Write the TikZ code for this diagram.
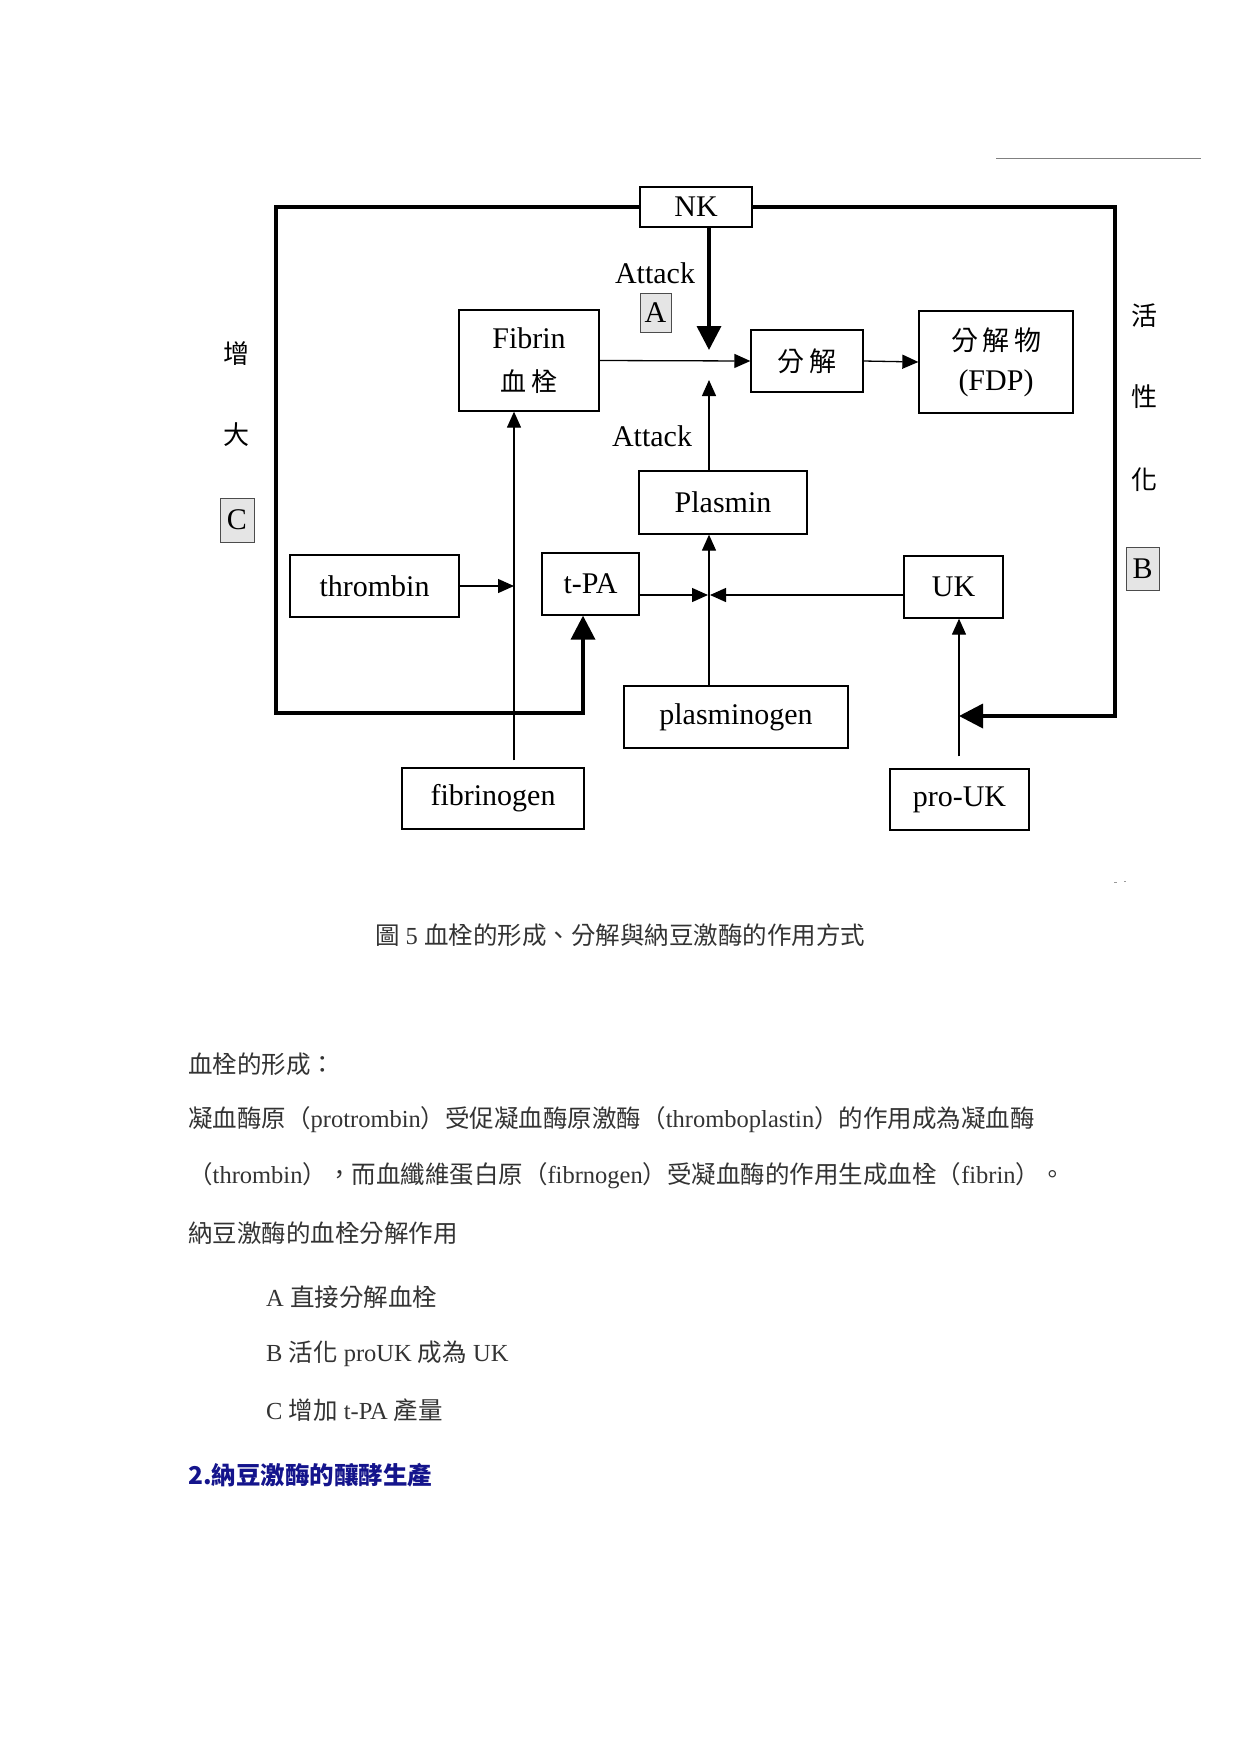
\documentclass[tikz,border=0pt]{standalone}
\usepackage{fontspec}
\setmainfont{Liberation Serif}
\newfontfamily\cjk{Noto Sans CJK TC}
\usetikzlibrary{arrows.meta}
\definecolor{navy}{RGB}{20,20,140}
\begin{document}
\begin{tikzpicture}[x=1pt,y=-1pt,
  box/.style={draw, line width=1.3pt, inner sep=0pt, align=center, font=\fontsize{30}{34}\selectfont},
  thinarr/.style={line width=1.3pt, -{Triangle[length=16pt,width=14pt]}},
  thickarr/.style={line width=3.6pt, line join=miter, -{Triangle[length=24pt,width=24pt]}},
  letterbox/.style={draw=black!70, line width=0.8pt, fill=black!10, inner sep=0pt, minimum width=33pt, minimum height=42pt, font=\fontsize{30}{34}\selectfont},
  side/.style={inner sep=0pt, font=\cjk\fontsize{26}{30}\selectfont},
  lbl/.style={inner sep=0pt, font=\fontsize{30}{34}\selectfont},
  body/.style={anchor=west, inner sep=0pt, text=black!80, font=\fontsize{24.5}{28}\selectfont},
]
\fill[white] (0,0) rectangle (1241,1754);
\useasboundingbox (0,0) rectangle (1241,1754);

% boxes
\node[box, minimum width=112pt, minimum height=40pt] (nk) at (696,207) {NK};
\node[box, minimum width=140pt, minimum height=101pt] (fib) at (529,360.5) {Fibrin\\[9pt]{\cjk\fontsize{26}{30}\selectfont 血\,栓}};
\node[box, minimum width=112pt, minimum height=62pt, font=\cjk\fontsize{27}{32}\selectfont] (dec) at (807,361) {分\,解};
\node[box, minimum width=154pt, minimum height=102pt] (fdp) at (996,362) {{\cjk\fontsize{27}{32}\selectfont 分\,解\,物}\\[6pt](FDP)};
\node[box, minimum width=168pt, minimum height=63pt] (pla) at (723,502.5) {Plasmin};
\node[box, minimum width=169pt, minimum height=62pt] (thr) at (374.5,586) {thrombin};
\node[box, minimum width=97pt, minimum height=62pt] (tpa) at (590.5,584) {t-PA};
\node[box, minimum width=99pt, minimum height=62pt] (uk) at (953.5,587) {UK};
\node[box, minimum width=224pt, minimum height=62pt] (plg) at (736,717) {plasminogen};
\node[box, minimum width=182pt, minimum height=61pt] (fbg) at (493,798.5) {fibrinogen};
\node[box, minimum width=139pt, minimum height=61pt] (puk) at (959.5,799.5) {pro-UK};

% labels
\node[lbl] (att1) at (655,273) {Attack};
\node[letterbox, minimum width=31pt, minimum height=39pt] (la) at (655.5,312.5) {A};
\node[lbl] (att2) at (652,436) {Attack};
\node[side] (z1) at (236,354) {增};
\node[side] (z2) at (236,435) {大};
\node[letterbox, minimum width=34pt, minimum height=44pt] (lc) at (237,520) {C};
\node[side] (h1) at (1144,316) {活};
\node[side] (h2) at (1144,397) {性};
\node[side] (h3) at (1144,480) {化};
\node[letterbox, minimum width=33pt, minimum height=43pt] (lb) at (1142.5,568.5) {B};

% coordinates
\coordinate (ctl) at (276,207);
\coordinate (cbl) at (276,713);
\coordinate (cbm) at (583,713);
\coordinate (ctr) at (1115,207);
\coordinate (cbr) at (1115,716);
\coordinate (jx) at (709,595);
\coordinate (natk) at (709,350);
\coordinate (patk) at (709,380);
\coordinate (vf) at (514,586);
\coordinate (pukj) at (959,716);

% frame
\draw[thickarr] (nk.west) -- (ctl) -- (cbl) -- (cbm) -- (cbm |- tpa.south);
\draw[thickarr] (nk.east) -- (ctr) -- (cbr) -- (pukj);

% arrows
\draw[thickarr] (nk.south -| natk) -- (natk);
\draw[thinarr] (pla.north -| patk) -- (patk);
\draw[thinarr] (fib.east) -- (dec.west);
\draw[thinarr] (dec.east) -- (fdp.west);
\draw[thinarr] (thr.east) -- (vf);
\draw[thinarr, shorten <=7pt] (fbg.north -| vf) -- (fib.south -| vf);
\draw[thinarr] (tpa.east |- jx) -- ([xshift=-1pt]jx);
\draw[thinarr] (uk.west |- jx) -- ([xshift=1pt]jx);
\draw[thinarr] (plg.north -| jx) -- (pla.south -| jx);
\draw[thinarr, shorten <=12pt] (puk.north -| pukj) -- (uk.south -| pukj);

% rule and marks
\draw[black!50, line width=0.8pt] (996,158) -- (1201,158);
\draw[black!40, line width=0.6pt] (1114,882) -- (1117,882) (1124,881) -- (1126,881);

% caption and text
\node[inner sep=0pt, text=black!80, font=\fontsize{24.5}{28}\selectfont] (cap) at (620,935) {{\cjk 圖} 5 {\cjk 血栓的形成、分解與納豆激酶的作用方式}};
\node[body] (t1) at (188,1064) {{\cjk 血栓的形成：}};
\node[body] (t2) at (188,1120) {{\cjk 凝血酶原（}protrombin{\cjk ）受促凝血酶原激酶（}thromboplastin{\cjk ）的作用成為凝血酶}};
\node[body] (t3) at (188,1176) {{\cjk （}thrombin{\cjk ），而血纖維蛋白原（}fibrnogen{\cjk ）受凝血酶的作用生成血栓（}fibrin{\cjk ）。}};
\node[body] (t4) at (188,1233) {{\cjk 納豆激酶的血栓分解作用}};
\node[body] (la1) at (266,1297) {A {\cjk 直接分解血栓}};
\node[body] (lb1) at (266,1354) {B {\cjk 活化} proUK {\cjk 成為} UK};
\node[body] (lc1) at (266,1410) {C {\cjk 增加} t-PA {\cjk 產量}};
\node[body, text=navy, font=\cjk\bfseries\fontsize{24.5}{28}\selectfont] (hd) at (188,1475) {2.納豆激酶的釀酵生產};
\end{tikzpicture}
\end{document}
